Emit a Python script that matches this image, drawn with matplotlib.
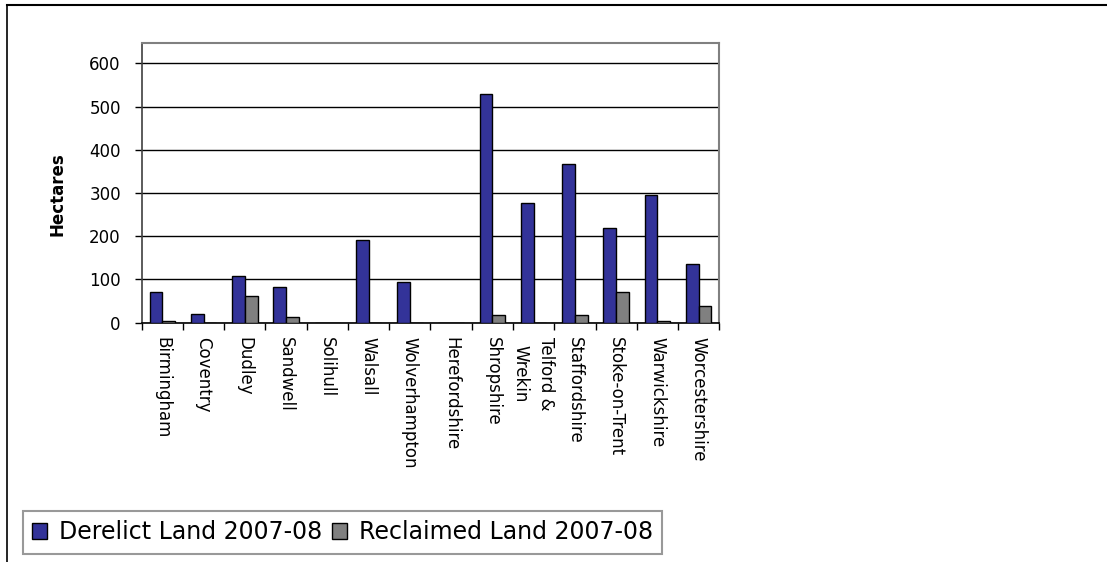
import matplotlib

matplotlib.use("Agg")

import matplotlib.pyplot as plt
from matplotlib.lines import Line2D
from matplotlib.patches import Patch
import numpy as np

plt.rcParams["font.family"] = ["DejaVu Sans"]

CATEGORIES = [
    "Birmingham", "Coventry", "Dudley", "Sandwell", "Solihull", "Walsall",
    "Wolverhampton", "Herefordshire", "Shropshire", "Telford &\nWrekin",
    "Staffordshire", "Stoke-on-Trent", "Warwickshire", "Worcestershire",
]
DERELICT = [70, 21, 108, 83, 0, 191, 95, 0, 530, 278, 368, 220, 295, 135]
RECLAIMED = [5, 0, 61, 14, 0, 0, 0, 0, 18, 0, 18, 70, 4, 39]
SERIES_NAMES = ["Derelict Land 2007-08", "Reclaimed Land 2007-08"]
YTICKS = [0, 100, 200, 300, 400, 500, 600]

BLUE = "#333399"
GREY = "#808080"

W, H = 1107, 562
fig = plt.figure(figsize=(W / 100, H / 100), dpi=100)


def fx(px):
    return px / W


def fy(py):
    return 1 - py / H


left, right, top, bottom = 141.7, 719.3, 42.7, 322.7
ax = fig.add_axes([fx(left), fy(bottom), fx(right - left), (bottom - top) / H])

x = np.arange(len(CATEGORIES))
bw = 0.31
ax.bar(x - bw / 2, DERELICT, width=bw, color=BLUE, edgecolor="black", linewidth=1.0, zorder=3)
ax.bar(x + bw / 2, RECLAIMED, width=bw, color=GREY, edgecolor="black", linewidth=1.0, zorder=3)

ax.set_xlim(-0.5, len(CATEGORIES) - 0.5)
ax.set_ylim(0, 648)
ax.set_yticks(YTICKS)
ax.yaxis.grid(True, color="black", linewidth=1.0, zorder=0)
ax.set_axisbelow(True)

# category boundaries carry the tick marks, labels sit at the centres
ax.set_xticks(np.arange(-0.5, len(CATEGORIES), 1.0))
ax.set_xticklabels([])
ax.set_xticks(x, minor=True)
ax.set_xticklabels(CATEGORIES, minor=True, rotation=-90, va="top", ha="center",
                   fontsize=12, linespacing=1.55)
ax.tick_params(axis="x", which="major", direction="out", length=5, width=1, color="black")
ax.tick_params(axis="x", which="minor", length=0, pad=10)
ax.tick_params(axis="y", direction="out", length=5, width=1, color="black", labelsize=12, pad=10)

for side in ("top", "right"):
    ax.spines[side].set_color(GREY)
    ax.spines[side].set_linewidth(1.5)
ax.spines["left"].set_color("#404040")
ax.spines["left"].set_linewidth(1.2)
ax.spines["bottom"].set_color("black")
ax.spines["bottom"].set_linewidth(1.2)

fig.text(fx(58), fy(194.5), "Hectares", rotation=90, ha="center", va="center",
         fontsize=12, fontweight="bold")

handles = [
    Patch(facecolor=BLUE, edgecolor="black", linewidth=1.0, label=SERIES_NAMES[0]),
    Patch(facecolor=GREY, edgecolor="black", linewidth=1.0, label=SERIES_NAMES[1]),
]
leg = fig.legend(
    handles=handles,
    loc="upper left",
    bbox_to_anchor=(fx(22.7), fy(511)),
    ncol=2,
    fontsize=17,
    frameon=True,
    fancybox=False,
    borderpad=0.4,
    borderaxespad=0,
    handlelength=0.62,
    handleheight=0.62,
    handletextpad=0.5,
    columnspacing=0.45,
)
leg.get_frame().set_edgecolor(GREY)
leg.get_frame().set_linewidth(1.5)

# outer chart border (top and left only)
fig.add_artist(Line2D([fx(7), 1], [fy(5), fy(5)], color="black", linewidth=1.5))
fig.add_artist(Line2D([fx(7), fx(7)], [fy(5), 0], color="black", linewidth=1.2))

fig.savefig("out.png", dpi=100)
